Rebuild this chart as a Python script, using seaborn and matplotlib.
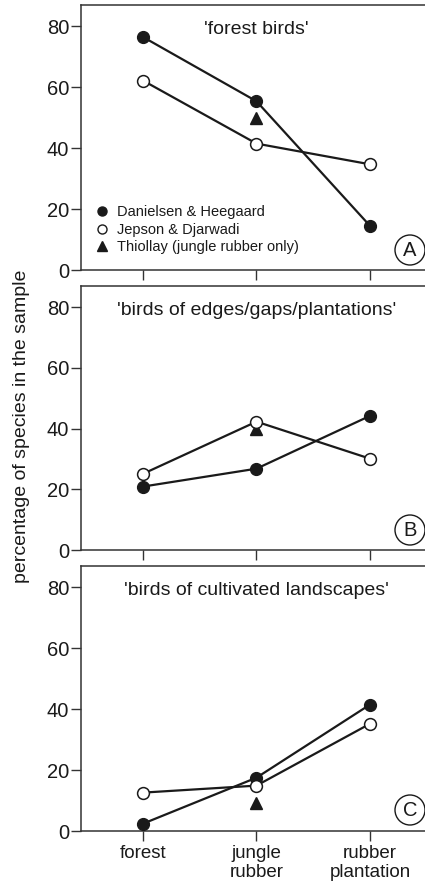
import pandas as pd
import seaborn as sns
import matplotlib.pyplot as plt
from matplotlib.lines import Line2D
from matplotlib.patches import Circle

sns.set_theme(style="white")
plt.rcParams["font.family"] = ["Liberation Sans", "DejaVu Sans"]

habitats = ["forest", "jungle\nrubber", "rubber\nplantation"]
panel_titles = ["'forest birds'", "'birds of edges/gaps/plantations'", "'birds of cultivated landscapes'"]
panel_letters = ["A", "B", "C"]

# Danielsen & Heegaard (filled circles)
danielsen = [
    [76.5, 55.4, 14.5],
    [20.9, 26.8, 44.2],
    [2.4, 17.5, 41.5],
]
# Jepson & Djarwadi (open circles)
jepson = [
    [62.2, 41.5, 34.7],
    [25.1, 42.3, 30.1],
    [12.6, 14.9, 35.2],
]
# Thiollay, jungle rubber only (triangle)
thiollay = [50.0, 39.8, 9.2]

yticks = [0, 20, 40, 60, 80]
ink = "#1a1a1a"

fig = plt.figure(figsize=(4.25, 8.88), dpi=100)

# panel boxes in pixels: (top, bottom)
boxes = [(5, 270), (286, 550), (566, 831)]
letter_y = [250, 530, 810]
left_px, right_px = 81, 440
W, H = 425, 888

for i, (top, bot) in enumerate(boxes):
    ax = fig.add_axes([left_px / W, 1 - bot / H, (right_px - left_px) / W, (bot - top) / H])
    df = pd.DataFrame({"habitat": habitats * 2,
                       "pct": danielsen[i] + jepson[i],
                       "study": ["D"] * 3 + ["J"] * 3})
    sns.lineplot(data=df[df.study == "D"], x="habitat", y="pct", ax=ax, color=ink,
                 lw=1.6, marker="o", markersize=8.5, markerfacecolor=ink,
                 markeredgecolor=ink, markeredgewidth=1, sort=False, zorder=3)
    sns.lineplot(data=df[df.study == "J"], x="habitat", y="pct", ax=ax, color=ink,
                 lw=1.6, marker="o", markersize=8.5, markerfacecolor="white",
                 markeredgecolor=ink, markeredgewidth=1.1, sort=False, zorder=4)
    ax.plot([habitats[1]], [thiollay[i]], marker="^", ms=8, color=ink, ls="none", zorder=2)

    ax.set_xlim(-0.546, -0.546 + (right_px - left_px) / 113.5)
    ax.set_ylim(0, 87)
    ax.set_yticks(yticks)
    ax.set_xlabel("")
    ax.set_ylabel("")
    for s in ax.spines.values():
        s.set_color("#333333")
        s.set_linewidth(1.1)
    ax.tick_params(axis="y", direction="out", length=7, width=1, color="#333333",
                   labelsize=14.5, pad=1.5, left=True, labelcolor=ink)
    ax.tick_params(axis="x", direction="out", length=7, width=1, color="#333333",
                   labelsize=13.5, pad=3, bottom=True, labelcolor=ink)
    if i < 2:
        ax.set_xticklabels([])
    else:
        for lab in ax.get_xticklabels():
            lab.set_linespacing(1.15)
            lab.set_va("top")

    ax.text(1.0, 79, panel_titles[i], ha="center", va="center", fontsize=14, color=ink)

    # circled panel letter
    cx, cy = 410, H - letter_y[i]
    fig.patches.append(Circle((cx, cy), 15, transform=None, fill=False, ec=ink, lw=1.0))
    fig.text(cx / W, cy / H, panel_letters[i], ha="center", va="center", fontsize=14.5, color=ink)

    if i == 0:
        handles = [
            Line2D([], [], marker="o", ls="none", ms=6.5, mfc=ink, mec=ink),
            Line2D([], [], marker="o", ls="none", ms=6.5, mfc="white", mec=ink),
            Line2D([], [], marker="^", ls="none", ms=6.5, mfc=ink, mec=ink),
        ]
        ax.legend(handles, ["Danielsen & Heegaard", "Jepson & Djarwadi",
                            "Thiollay (jungle rubber only)"],
                  loc="lower left", bbox_to_anchor=(0.014, 0.02), frameon=False,
                  fontsize=10.5, handlelength=0.8, handletextpad=0.6,
                  labelspacing=0.25, borderaxespad=0.3, labelcolor=ink)

fig.text(22 / W, 1 - 426 / H, "percentage of species in the sample", rotation=90,
         ha="center", va="center", fontsize=14, color=ink)

fig.savefig("out.png", dpi=100)
